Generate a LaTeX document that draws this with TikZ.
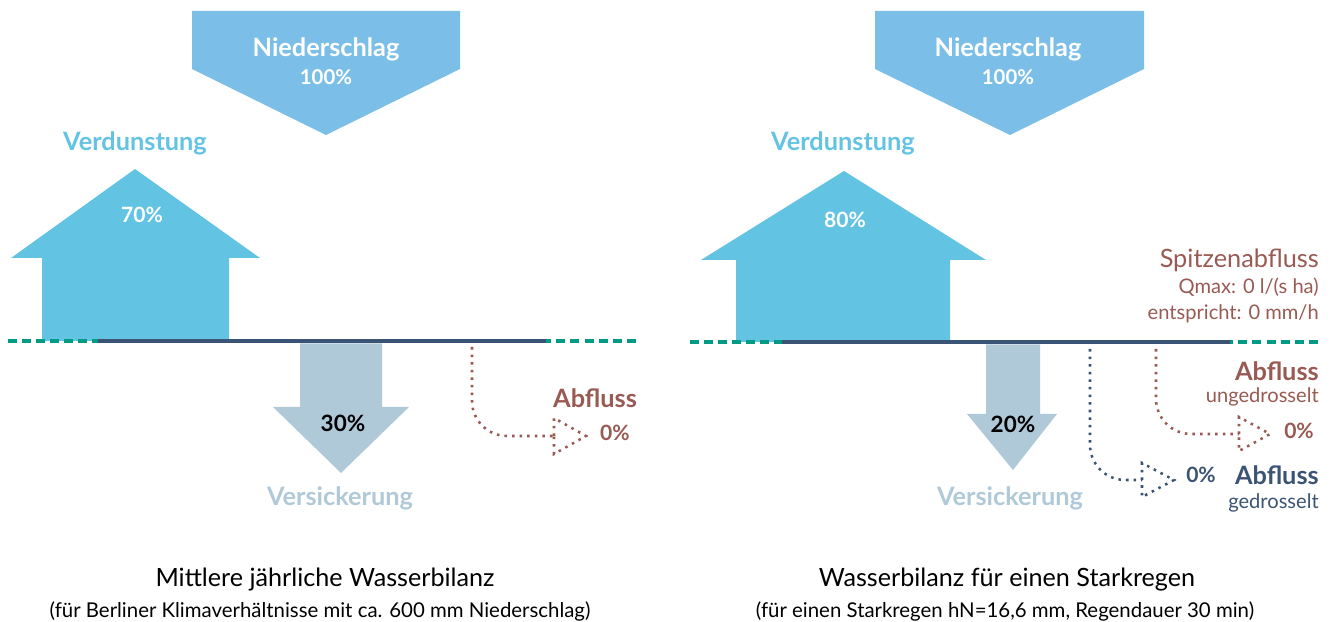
\documentclass[tikz,border=0pt]{standalone}
\usepackage{fontspec}
\setmainfont{Lato}
\definecolor{rainblue}{HTML}{7BBFE8}
\definecolor{evapblue}{HTML}{62C3E2}
\definecolor{seepgrey}{HTML}{B0C9D9}
\definecolor{soilgreen}{HTML}{009B85}
\definecolor{sealblue}{HTML}{3B5375}
\definecolor{runbrown}{HTML}{985A52}

\begin{document}
\begin{tikzpicture}[x=0.025cm, y=0.025cm]
        \tikzstyle{every node}+=[inner sep=0pt]
        \tikzstyle{head}=[font=\bfseries\fontsize{18}{21}\selectfont]
        \tikzstyle{pct}=[font=\bfseries\fontsize{15}{18}\selectfont]
        \tikzstyle{small}=[font=\fontsize{14.3}{17}\selectfont]
        \tikzstyle{ground}=[soilgreen, line width=3.5pt, dash pattern=on 6.4pt off 3.6pt]
        \tikzstyle{seal}=[sealblue, line width=3.5pt]
        \tikzstyle{runoff}=[line width=1.8pt, dash pattern=on 1.8pt off 3.6pt, rounded corners=25pt]
        \tikzstyle{runtip}=[line width=1.8pt, dash pattern=on 1.8pt off 3.6pt]
        \useasboundingbox (0,0) rectangle (1335,-622);
        % left: mittlere jaehrliche Wasserbilanz
        \fill [rainblue] (192,-11) -- (460,-11) -- (460,-69) -- (326,-135) -- (192,-69) -- cycle;
        \node [head, white] (rain1) at (326,-49) {Niederschlag};
        \node [pct, white, font=\bfseries\fontsize{14.5}{17}\selectfont] (rain1p) at (326,-77) {100\%};
        \node [head, evapblue] (evap1) at (135,-143) {Verdunstung};
        \fill [evapblue] (135,-169) -- (260,-258) -- (229,-258) -- (229,-341) -- (42,-341) -- (42,-258) -- (11,-258) -- cycle;
        \node [pct, white] (evap1p) at (142,-215) {70\%};
        \draw [ground] (8,-341) -- (637,-341);
        \draw [seal] (98,-341) -- (546,-341);
        \fill [seepgrey] (300,-343.5) -- (382,-343.5) -- (382,-407) -- (409,-407) -- (341,-473) -- (273,-407) -- (300,-407) -- cycle;
        \node [pct, black, font=\bfseries\fontsize{16}{19}\selectfont] (seep1p) at (343,-423) {30\%};
        \node [head, seepgrey] (seep1) at (340,-498) {Versickerung};
        \coordinate (out1) at (472,-347);
        \coordinate (tip1) at (554,-436);
        \draw [runoff, runbrown] (out1) |- (tip1);
        \draw [runtip, runbrown] (tip1) -- ++(0,18) -- ++(32,-18) -- ++(-32,-18) -- cycle;
        \node [head, runbrown] (run1) at (595,-398) {Abfluss};
        \node [pct, runbrown] (run1p) at (615,-433) {0\%};
        \node [font=\fontsize{17.9}{21}\selectfont] (cap1) at (325,-580) {Mittlere jährliche Wasserbilanz};
        \node [font=\fontsize{14.5}{17}\selectfont] (sub1) at (320,-611) {(für Berliner Klimaverhältnisse mit ca. 600 mm Niederschlag)};
        % right: Starkregen
        \fill [rainblue] (875,-11) -- (1144,-11) -- (1144,-69) -- (1010,-135) -- (875,-69) -- cycle;
        \node [head, white] (rain2) at (1008,-49) {Niederschlag};
        \node [pct, white, font=\bfseries\fontsize{14.5}{17}\selectfont] (rain2p) at (1008,-77) {100\%};
        \node [head, evapblue] (evap2) at (843,-143) {Verdunstung};
        \fill [evapblue] (844,-171) -- (986,-260) -- (950,-260) -- (950,-342) -- (736,-342) -- (736,-260) -- (701,-260) -- cycle;
        \node [pct, white] (evap2p) at (845,-220) {80\%};
        \draw [ground] (690,-342) -- (1321,-342);
        \draw [seal] (782,-342) -- (1230,-342);
        \fill [seepgrey] (986,-344.5) -- (1040,-344.5) -- (1040,-414) -- (1057,-414) -- (1013,-470) -- (967,-414) -- (986,-414) -- cycle;
        \node [pct, black, font=\bfseries\fontsize{16}{19}\selectfont] (seep2p) at (1013,-424) {20\%};
        \node [head, seepgrey] (seep2) at (1010,-498) {Versickerung};
        \node [anchor=east, runbrown, font=\fontsize{18}{21}\selectfont] (peak) at (1319,-260) {Spitzenabfluss};
        \node [anchor=east, runbrown, small] (qmax) at (1319,-287) {Qmax: 0 l/(s ha)};
        \node [anchor=east, runbrown, small] (mmh) at (1319,-314) {entspricht: 0 mm/h};
        \node [anchor=east, head, runbrown] (run2) at (1319,-371) {Abfluss};
        \node [anchor=east, small, runbrown] (run2s) at (1319,-397) {ungedrosselt};
        \coordinate (out2) at (1156,-349);
        \coordinate (tip2) at (1239,-434);
        \draw [runoff, runbrown] (out2) |- (tip2);
        \draw [runtip, runbrown] (tip2) -- ++(0,17) -- ++(31,-17) -- ++(-31,-17) -- cycle;
        \node [pct, runbrown] (run2p) at (1299,-431) {0\%};
        \coordinate (out3) at (1090,-349);
        \coordinate (tip3) at (1142,-480);
        \draw [runoff, sealblue] (out3) |- (tip3);
        \draw [runtip, sealblue] (tip3) -- ++(0,17) -- ++(32,-17) -- ++(-32,-17) -- cycle;
        \node [pct, sealblue] (run3p) at (1201,-475) {0\%};
        \node [anchor=east, head, sealblue] (run3) at (1319,-475) {Abfluss};
        \node [anchor=east, small, sealblue] (run3s) at (1319,-503) {gedrosselt};
        \node [font=\fontsize{17.9}{21}\selectfont] (cap2) at (1007,-580) {Wasserbilanz für einen Starkregen};
        \node [font=\fontsize{14.5}{17}\selectfont] (sub2) at (1005,-611) {(für einen Starkregen hN=16,6 mm, Regendauer 30 min)};
\end{tikzpicture}
\end{document}
